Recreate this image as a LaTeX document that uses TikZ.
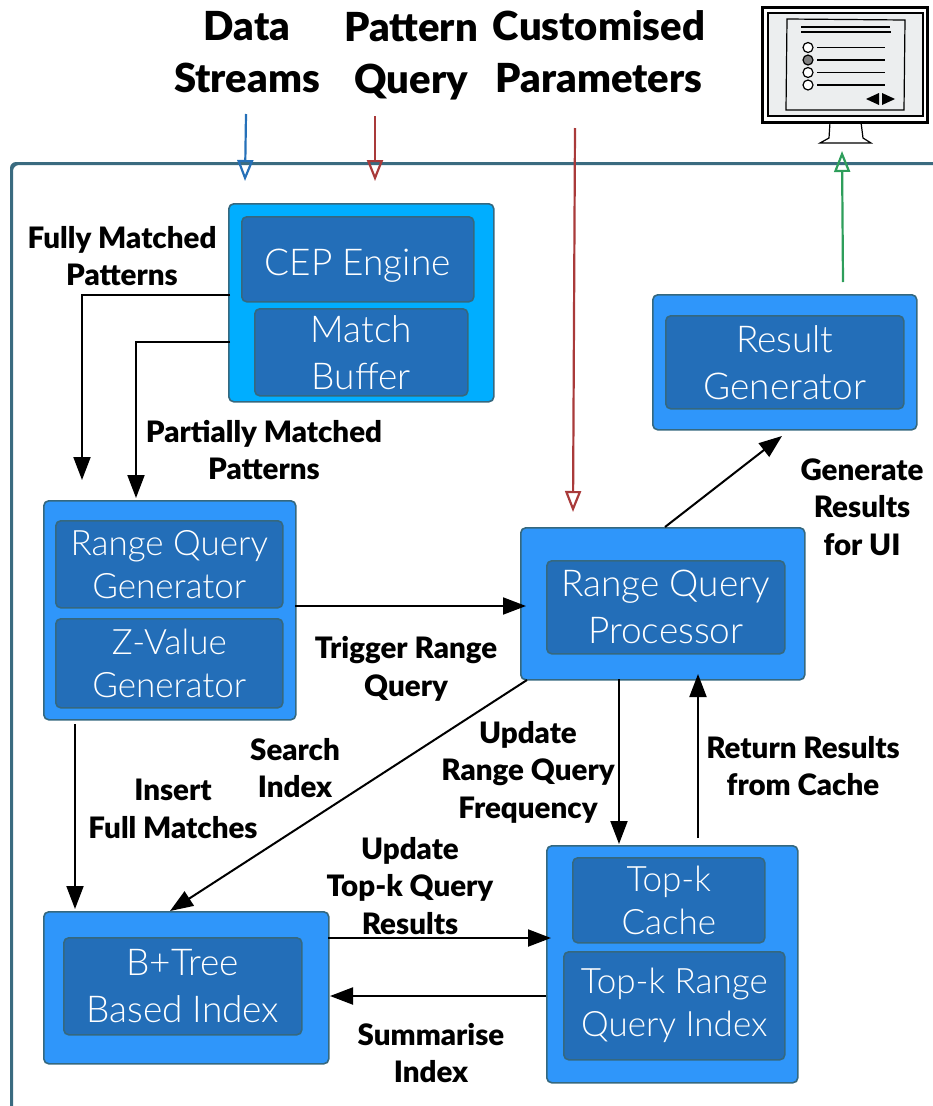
\documentclass[tikz,border=0pt]{standalone}
\usepackage{fontspec}
\setmainfont{Lato}
\newfontfamily\lightfont{Lato Light}
\newfontfamily\heavyfont{Lato Black}
\usetikzlibrary{arrows.meta,shadows}
\definecolor{framecol}{HTML}{3A6B80}
\definecolor{cepcol}{HTML}{00AEFF}
\definecolor{outercol}{HTML}{2F96FA}
\definecolor{innercol}{HTML}{236EB8}
\definecolor{edgecol}{HTML}{35687F}
\definecolor{streamcol}{HTML}{2570B8}
\definecolor{querycol}{HTML}{A93A3A}
\definecolor{uicol}{HTML}{2E9E5B}
\definecolor{screencol}{HTML}{ECEEEF}
\tikzset{
	outerbox/.style={draw=edgecol,line width=1.6pt,fill=outercol,rounded corners=5pt,anchor=north west,inner sep=0pt,
		drop shadow={shadow xshift=0pt,shadow yshift=0pt,opacity=0.25}},
	innerbox/.style={draw=edgecol,line width=1.6pt,fill=innercol,rounded corners=5pt,anchor=north west,inner sep=0pt,
		text=white,align=center,font=\lightfont\fontsize{37}{47}\selectfont},
	innersmall/.style={innerbox,font=\lightfont\fontsize{35}{43}\selectfont},
	edgelabel/.style={font=\heavyfont\fontsize{29.5}{37.5}\selectfont,align=center},
	headlabel/.style={font=\heavyfont\fontsize{40}{52}\selectfont,align=center},
	flow/.style={line width=2pt,-{Triangle[length=23pt,width=17pt]}},
	inflow/.style={line width=2.2pt,-{Triangle[open,length=21pt,width=16pt,line width=2.2pt]}},
}
\begin{document}
\begin{tikzpicture}[x=1pt,y=-1pt]
	\useasboundingbox (0,0) rectangle (933,1106);

	% System frame
	\fill[rounded corners=6pt,framecol] (10,1120) -- (10,162) -- (950,162) -- (950,165) -- (13,165) -- (13,1120) -- cycle;

	% Outer boxes
	\node[outerbox,fill=cepcol,minimum width=265pt,minimum height=198pt] (cep) at (228,203) {};
	\node[outerbox,minimum width=264pt,minimum height=135pt] (result) at (652,294) {};
	\node[outerbox,minimum width=252pt,minimum height=219pt] (gen) at (43,500) {};
	\node[outerbox,minimum width=284pt,minimum height=152pt] (proc) at (520,527) {};
	\node[outerbox,minimum width=285pt,minimum height=152pt] (btree) at (43,911) {};
	\node[outerbox,minimum width=251pt,minimum height=237pt] (topk) at (546,845) {};

	% Inner boxes
	\node[innerbox,minimum width=232pt,minimum height=85pt] (engine) at (241,216) {\raisebox{-3pt}[\height][0pt]{CEP Engine}};
	\node[innerbox,minimum width=213pt,minimum height=87pt] (buffer) at (254,308) {Match\\Buffer};
	\node[innerbox,minimum width=238pt,minimum height=93pt] (resgen) at (665,315) {Result\\Generator};
	\node[innersmall,minimum width=227pt,minimum height=87pt] (rangegen) at (55,520) {Range Query\\Generator};
	\node[innersmall,minimum width=227pt,minimum height=89pt] (zvalue) at (55,618) {Z-Value\\Generator};
	\node[innerbox,minimum width=238pt,minimum height=93pt] (rangeproc) at (546,560) {Range Query\\Processor};
	\node[innerbox,minimum width=238pt,minimum height=97pt] (index) at (63,937) {B+Tree\\Based Index};
	\node[innersmall,minimum width=192pt,minimum height=85pt] (cache) at (572,857) {Top-k\\Cache};
	\node[innersmall,minimum width=221pt,minimum height=108pt] (rangeindex) at (563,951) {Top-k Range\\Query Index};

	% Inputs on top
	\node[headlabel] (streams) at (247,52) {Data\\Streams};
	\node[headlabel] (pattern) at (411,56) {Pattern\\Query};
	\node[headlabel] (params) at (599,52) {Customised\\Parameters};
	\coordinate (streamsin) at (246,114);
	\coordinate (streamsout) at (245,181);
	\coordinate (patternin) at (375,116);
	\coordinate (patternout) at (375,181);
	\coordinate (paramsin) at (575,128);
	\coordinate (paramsout) at (573,512);
	\draw[inflow,streamcol] (streamsin) -- (streamsout);
	\draw[inflow,querycol] (patternin) -- (patternout);
	\draw[inflow,querycol] (paramsin) -- (paramsout);

	% Monitor
	\begin{scope}
		\draw[line width=3pt,fill=white] (762,7) rectangle (927,122);
		\draw[line width=1.4pt,fill=screencol] (768,13) rectangle (923,116);
		\draw[line width=1.2pt,fill=screencol] (787,19) -- (905,20) -- (904,110) -- (786,110) -- cycle;
		\draw[line width=1.2pt] (801,27) -- (890,27);
		\draw[line width=1.2pt] (801,32) -- (891,32);
		\foreach \y/\col in {47.5/white,60/gray,72.5/white,85/white} {
			\draw[line width=1.2pt,fill=\col] (808,\y) circle (5pt);
			\draw[line width=1.2pt] (817,\y) -- (885,\y);
		}
		\fill (866,99) -- (879,93) -- (879,105) -- cycle;
		\fill (882,93) -- (895,99) -- (882,105) -- cycle;
		\draw[line width=1.2pt] (830,122) -- (829,138) -- (820,143) -- (871,143) -- (863,138) -- (861,122);
	\end{scope}
	\coordinate (resultout) at (843,282);
	\coordinate (uiin) at (842,151);
	\draw[inflow,uicol] (resultout) -- (uiin);

	% Connectors between boxes
	\coordinate (fullout) at (230,295);
	\coordinate (fullin) at (82,480);
	\coordinate (partout) at (230,342);
	\coordinate (partin) at (136,498);
	\coordinate (triggerout) at (295,606);
	\coordinate (triggerin) at (526,606);
	\coordinate (genout) at (75,724);
	\coordinate (btreein) at (75,909);
	\coordinate (procout) at (665,527);
	\coordinate (resultin) at (782,436);
	\coordinate (searchout) at (527,680);
	\coordinate (searchin) at (170,911);
	\coordinate (procbase) at (619,679);
	\coordinate (topkin) at (619,844);
	\coordinate (topkout) at (698,838);
	\coordinate (procin) at (698,674);
	\coordinate (updateout) at (328,938);
	\coordinate (updatein) at (551,938);
	\coordinate (sumout) at (546,996);
	\coordinate (sumin) at (330,996);
	\draw[flow] (fullout) -| (fullin);
	\draw[flow] (partout) -| (partin);
	\draw[flow] (triggerout) -- (triggerin);
	\draw[flow] (genout) -- (btreein);
	\draw[flow] (procout) -- (resultin);
	\draw[flow] (searchout) -- (searchin);
	\draw[flow] (procbase) -- (topkin);
	\draw[flow] (topkout) -- (procin);
	\draw[flow] (updateout) -- (updatein);
	\draw[flow] (sumout) -- (sumin);

	% Connector labels
	\node[edgelabel] (fulllabel) at (122,256) {Fully Matched\\Patterns};
	\node[edgelabel] (partlabel) at (264,450) {Partially Matched\\Patterns};
	\node[edgelabel] (genlabel) at (862,507) {Generate\\Results\\for UI};
	\node[edgelabel] (triggerlabel) at (406,669) {Trigger Range\\Query};
	\node[edgelabel] (searchlabel) at (295,768) {Search\\Index};
	\node[edgelabel] (freqlabel) at (528,772) {Update\\Range Query\\Frequency};
	\node[edgelabel] (cachelabel) at (803,766) {Return Results\\from Cache};
	\node[edgelabel] (insertlabel) at (173,809) {Insert\\Full Matches};
	\node[edgelabel] (toplabel) at (410,886) {Update\\Top-k Query\\Results};
	\node[edgelabel] (sumlabel) at (431,1053) {Summarise\\Index};
\end{tikzpicture}
\end{document}
